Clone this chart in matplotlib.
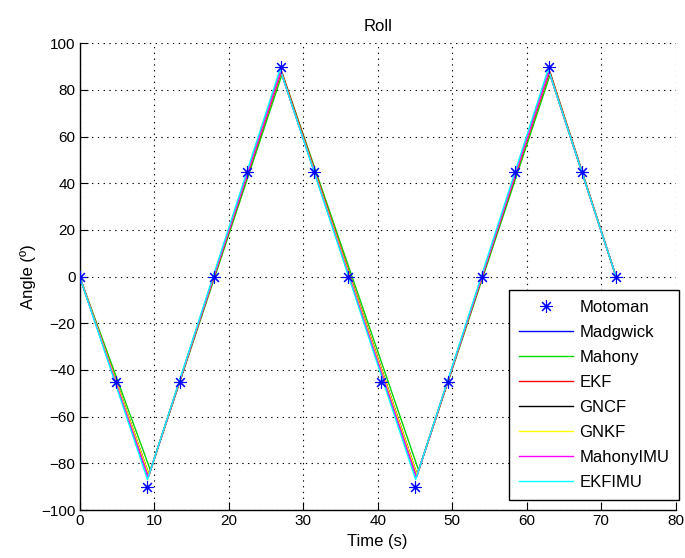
import matplotlib as mpl
mpl.use('Agg')
import matplotlib.pyplot as plt
import numpy as np

plt.rcParams['font.family'] = ['Liberation Sans', 'DejaVu Sans']

# reference (Motoman) angles
moto_t = [0, 4.9, 9, 13.5, 18, 22.5, 27, 31.5, 36, 40.5, 45, 49.5, 54,
          58.5, 63, 67.5, 72]
moto_a = [0, -45, -90, -45, 0, 45, 90, 45, 0, -45, -90, -45, 0,
          45, 90, 45, 0]

# estimator vertices (time, angle)
madgwick_t = [0, 9.2, 27.0, 45.2, 63.0, 72]
madgwick_a = [0, -86, 88, -86, 88, 0]
mahony_t = [0, 9.5, 27.2, 45.5, 63.2, 72]
mahony_a = [0, -83, 87, -83, 87, 0]
ekf_t = [0, 9.3, 27.1, 45.3, 63.1, 72]
ekf_a = [0, -85, 88, -85, 88, 0]
gncf_t = [0, 9.3, 27.0, 45.3, 63.0, 72]
gncf_a = [0, -85, 88, -85, 88, 0]
gnkf_t = [0, 9.3, 27.0, 45.3, 63.0, 72]
gnkf_a = [0, -85, 88, -85, 88, 0]
mahonyimu_t = [0, 9.2, 27.0, 45.2, 63.0, 72]
mahonyimu_a = [0, -86, 88, -86, 88, 0]
ekfimu_t = [0, 9.1, 26.9, 45.1, 62.9, 72]
ekfimu_a = [0, -87, 89, -87, 89, 0]

series = [
    ('Madgwick', madgwick_t, madgwick_a, (0, 0, 1)),
    ('Mahony', mahony_t, mahony_a, (0, 0.85, 0)),
    ('EKF', ekf_t, ekf_a, (1, 0, 0)),
    ('GNCF', gncf_t, gncf_a, (0, 0, 0)),
    ('GNKF', gnkf_t, gnkf_a, (1, 1, 0)),
    ('MahonyIMU', mahonyimu_t, mahonyimu_a, (1, 0, 1)),
    ('EKFIMU', ekfimu_t, ekfimu_a, (0, 1, 1)),
]

fig = plt.figure(figsize=(6.85, 5.58), dpi=100)
ax = fig.add_axes([0.1163, 0.086, 0.870, 0.8364])

ax.plot(moto_t, moto_a, linestyle='none', marker=(8, 2, 0), color='b',
        markersize=9, markeredgewidth=0.8, label='Motoman', zorder=5)
for name, t, a, c in series:
    ax.plot(t, a, color=c, linewidth=1.0, label=name)

ax.set_xlim(0, 80)
ax.set_ylim(-100, 100)
ax.set_xticks(np.arange(0, 81, 10))
ax.set_yticks(np.arange(-100, 101, 20))
ax.grid(True, linestyle=(0, (1.2, 4)), color='k', linewidth=0.8)
for s in ['top', 'right']:
    ax.spines[s].set_visible(False)
for s in ['left', 'bottom']:
    ax.spines[s].set_linewidth(1.0)
ax.tick_params(direction='in', length=6, labelsize=11, pad=3)

ax.set_title('Roll', fontsize=12, pad=9)
ax.set_xlabel('Time (s)', fontsize=12, labelpad=4)
ax.set_ylabel('Angle (º)', fontsize=12, labelpad=4)

leg = ax.legend(loc='lower right', bbox_to_anchor=(1.006, 0.021),
                borderaxespad=0, fontsize=12, fancybox=False, framealpha=1,
                edgecolor='k', handlelength=3.2, handletextpad=0.4,
                labelspacing=0.6, borderpad=0.6)
leg.get_frame().set_linewidth(1.0)

plt.savefig('out.png', dpi=100)
